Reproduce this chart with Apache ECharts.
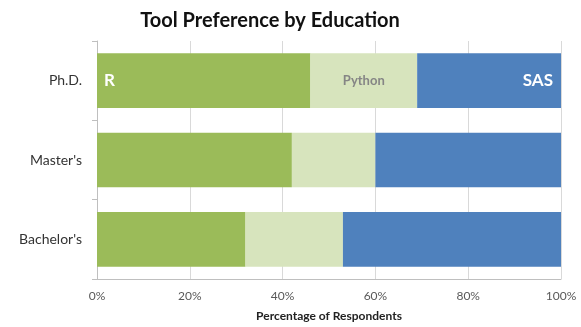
<!DOCTYPE html>
<html>
<head>
<meta charset="utf-8">
<script src="https://cdn.jsdelivr.net/npm/echarts@6/dist/echarts.min.js"></script>
<style>
html, body { margin: 0; padding: 0; background: #fff; }
#myChart { width: 581px; height: 327px; }
</style>
</head>
<body>
<div id="myChart"></div>
<script>
var categories = ["Bachelor's", "Master's", 'Ph.D.'];
var rValues = [32, 42, 46];
var pythonValues = [21, 18, 23];
var sasValues = [47, 40, 31];
var xTicks = [0, 20, 40, 60, 80, 100];

var myChart = echarts.init(document.getElementById('myChart'));
var fontFam = 'Lato, "Open Sans", sans-serif';

// only the Ph.D. bar carries the series name inside
function withLabel(values, labelOpt) {
    return values.map(function (v, i) {
        if (i === categories.length - 1) {
            return { value: v, label: labelOpt };
        }
        return v;
    });
}

var option = {
    backgroundColor: '#fff',
    animation: false,
    title: {
        text: 'Tool Preference by Education',
        left: 265, top: 6, textAlign: 'center',
        textStyle: { fontFamily: fontFam, fontSize: 20, fontWeight: 'bold', color: '#111' }
    },
    grid: { left: 97, right: 20, top: 41, bottom: 45 },
    xAxis: {
        type: 'value', min: 0, max: 100, interval: 20,
        name: 'Percentage of Respondents', nameLocation: 'middle', nameGap: 31,
        nameTextStyle: { fontFamily: fontFam, fontSize: 12, fontWeight: 'bold', color: '#222' },
        axisLine: { show: true, lineStyle: { color: '#bfbfbf' } },
        axisTick: { show: false },
        axisLabel: {
            fontFamily: fontFam, fontSize: 12, color: '#595959', margin: 11,
            formatter: function (v) { return xTicks.indexOf(v) >= 0 ? v + '%' : ''; }
        },
        splitLine: { show: true, lineStyle: { color: '#d9d9d9' } }
    },
    yAxis: {
        type: 'category', data: categories,
        axisLine: { show: true, lineStyle: { color: '#bfbfbf' } },
        axisTick: { show: true, length: 5, lineStyle: { color: '#bfbfbf' } },
        axisLabel: { fontFamily: fontFam, fontSize: 14, color: '#333', margin: 15 }
    },
    series: [
        {
            name: 'R', type: 'bar', stack: 'all', barCategoryGap: '31%',
            itemStyle: { color: '#9bbb59' },
            data: withLabel(rValues, {
                show: true, position: 'insideLeft', formatter: 'R', distance: 7,
                fontFamily: fontFam, fontSize: 17, fontWeight: 'bold', color: '#fff'
            })
        },
        {
            name: 'Python', type: 'bar', stack: 'all',
            itemStyle: { color: '#d7e4bd' },
            data: withLabel(pythonValues, {
                show: true, position: 'inside', formatter: 'Python',
                fontFamily: fontFam, fontSize: 13, fontWeight: 'bold', color: '#858585'
            })
        },
        {
            name: 'SAS', type: 'bar', stack: 'all',
            itemStyle: { color: '#4f81bd' },
            data: withLabel(sasValues, {
                show: true, position: 'insideRight', formatter: 'SAS', distance: 8,
                fontFamily: fontFam, fontSize: 17, fontWeight: 'bold', color: '#fff'
            })
        }
    ]
};

myChart.setOption(option);
</script>
</body>
</html>
